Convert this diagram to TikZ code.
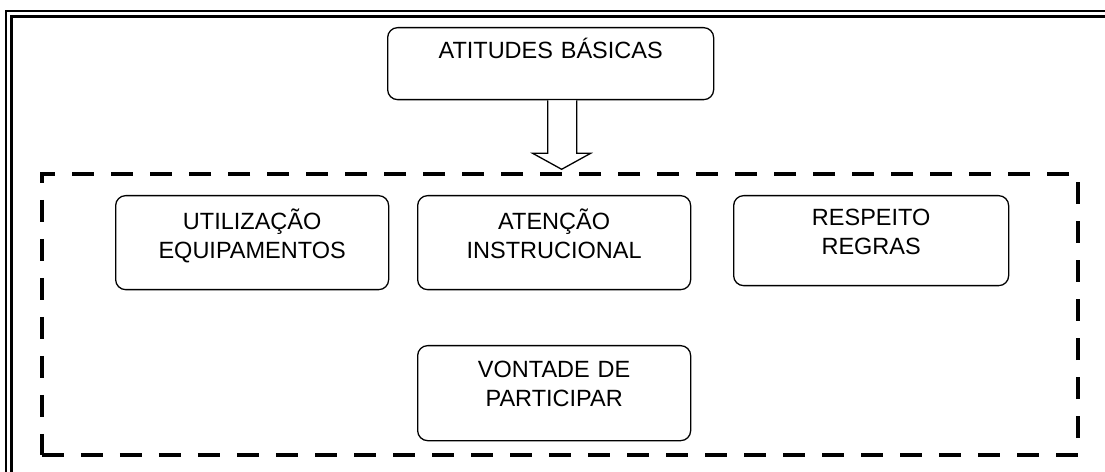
\documentclass[tikz,border=0pt]{standalone}
\usepackage{fontspec}
\setmainfont{Liberation Sans}
\usetikzlibrary{calc}

\tikzset{
  caixa/.style={draw, line width=1.3bp, rounded corners=10bp, anchor=north west, align=center,
    inner xsep=0pt, inner ysep=16.5bp, text height=17bp, text depth=44bp,
    font=\fontsize{23.5bp}{29bp}\selectfont},
  grupo/.style={draw, line width=4.5bp, dash pattern=on 22bp off 17bp, inner sep=0pt},
  moldura/.style={draw, line width=2.2bp},
}

\begin{document}
\begin{tikzpicture}[x=1bp, y=-1bp]

\useasboundingbox (0,0) rectangle (1105,472);
\clip (0,0) rectangle (1105,472);

\draw[moldura] (1110,11) -- (6,11) -- (6,480);
\draw[moldura] (1110,16.5) -- (11.5,16.5) -- (11.5,480);

\node[caixa, text width=326bp, inner ysep=14bp, text depth=27bp] (1) at (387,27) {ATITUDES BÁSICAS};

\node[grupo, minimum width=1036bp, minimum height=281bp] (6) at (560,314.5) {};

\node[caixa, text width=273bp] (2) at (115,195) {UTILIZAÇÃO\\EQUIPAMENTOS};
\node[caixa, text width=273bp] (3) at (417,195) {ATENÇÃO\\INSTRUCIONAL};
\node[caixa, text width=275bp, inner ysep=13bp, text depth=47bp] (4) at (733,195) {RESPEITO\\REGRAS};
\node[caixa, text width=273bp, inner ysep=15bp, text depth=48bp] (5) at (417,345) {VONTADE DE\\PARTICIPAR};

\draw[line width=1.3bp, fill=white] (1.south) ++(-3,0) -- ++(0,53) -- ++(-15,0) -- ++(29,16)
  -- ++(29,-16) -- ++(-14,0) -- ++(0,-53);

\end{tikzpicture}
\end{document}
